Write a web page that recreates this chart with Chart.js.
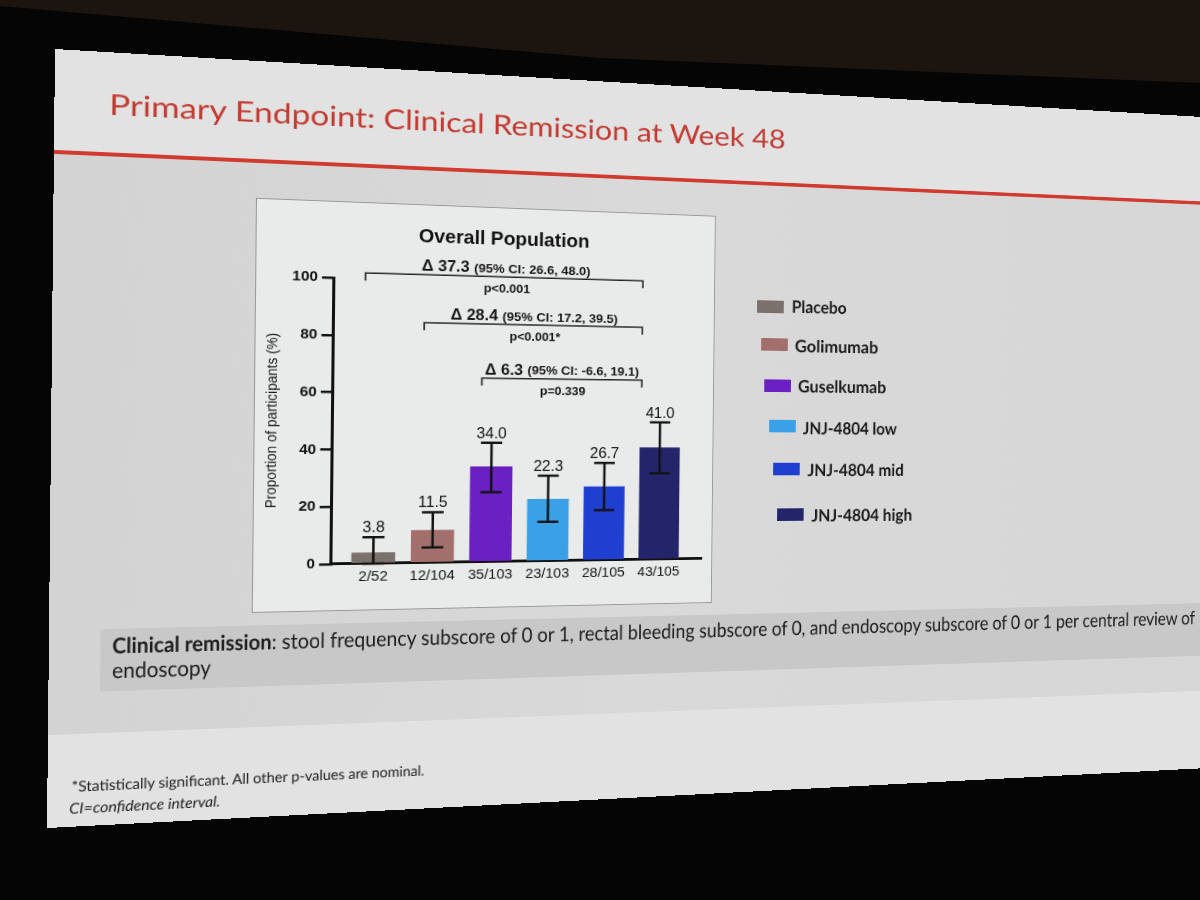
<!DOCTYPE html>
<html>
<head>
<meta charset="utf-8">
<title>Primary Endpoint: Clinical Remission at Week 48</title>
<script src="https://cdn.jsdelivr.net/npm/chart.js@4.4.1/dist/chart.umd.min.js"></script>
<style>
  html, body { margin: 0; padding: 0; }
  body { width: 1200px; height: 900px; overflow: hidden; background: #050505; position: relative; font-family: Lato, "Open Sans", sans-serif; }
  #room { position: absolute; left: 0; top: 0; width: 1200px; height: 900px; background: #1c150f;
          clip-path: polygon(0 0, 1200px 0, 1200px 83px, 600px 58px, 0 6px); }
  #slide { position: absolute; left: 0; top: 0; width: 1310px; height: 780px; transform-origin: 0 0;
           background: #e1e2e1; overflow: hidden; }
  #slide > * { position: absolute; }
  #panel { left: 0; width: 100%; background: linear-gradient(90deg, #d2d3d2, #d8d9d8 45%, #d5d6d5); }
  #redline { left: 0; width: 100%; height: 4px; background: #d13a2e; }
  #band { background: #c7c8c7; }
  #chartbox { background: #e9eaea; border: 1px solid #999; box-sizing: border-box; }
  .txt { white-space: nowrap; line-height: 1; transform-origin: 0 0; }
  #title { color: #c23a31; font-size: 29px; }
  .bandline { color: #1c1c1c; font-size: 22px; }
  .foot { color: #1e1e1e; font-size: 15px; }
  .sw { width: 30px; height: 14px; }
  .leg { color: #1b1b1b; font-size: 19px; font-weight: 700; }
</style>
</head>
<body>
<div id="room"></div>
<div id="slide">
  <div id="panel"></div>
  <div id="redline"></div>
  <div id="title" class="txt">Primary Endpoint: Clinical Remission at Week 48</div>
  <div id="chartbox"></div>
  <canvas id="chart"></canvas>
  <div id="band"></div>
  <div id="band1" class="txt bandline"><b>Clinical remission</b>: stool frequency subscore of 0 or 1, rectal bleeding subscore of 0, and endoscopy subscore of 0 or 1 per central review of</div>
  <div id="band2" class="txt bandline">endoscopy</div>
  <div id="foot1" class="txt foot">*Statistically significant. All other p-values are nominal.</div>
  <div id="foot2" class="txt foot"><i>CI=confidence interval.</i></div>
</div>
<script>
// =================== DATA ===================
const GROUPS = ['Placebo', 'Golimumab', 'Guselkumab', 'JNJ-4804 low', 'JNJ-4804 mid', 'JNJ-4804 high'];
const COUNTS = ['2/52', '12/104', '35/103', '23/103', '28/105', '43/105'];
const VALUES = [3.8, 11.5, 34.0, 22.3, 26.7, 41.0];
const CI_LOW = [0, 5.4, 24.9, 14.1, 18.2, 31.6];
const CI_HIGH = [9.3, 17.9, 42.6, 30.8, 35.4, 50.3];
const Y_TICKS = [0, 20, 40, 60, 80, 100];

const BRACKET_FROM = [0, 1, 2];
const BRACKET_TO = [5, 5, 5];
const BRACKET_LEVEL = [102, 85, 65.7];
const BRACKET_DELTA = ['Δ 37.3', 'Δ 28.4', 'Δ 6.3'];
const BRACKET_CI = ['(95% CI: 26.6, 48.0)', '(95% CI: 17.2, 39.5)', '(95% CI: -6.6, 19.1)'];
const BRACKET_P = ['p<0.001', 'p<0.001*', 'p=0.339'];

const COLORS = ['#7b716c', '#a36f6c', '#6a20c2', '#3ba1e6', '#1f3fd1', '#24246a'];

// =================== SLIDE PERSPECTIVE ===================
// flat slide corners -> where the photo shows them
const FLAT_W = 1310, FLAT_H = 780;
const SRC = [[0, 0], [FLAT_W, 0], [0, FLAT_H], [FLAT_W, FLAT_H]];
const DST = [[55, 49], [1253, 120], [47, 828], [1246, 766]];

function solveHomography(src, dst) {
  const A = [];
  for (let i = 0; i < 4; i++) {
    const [x, y] = src[i], [X, Y] = dst[i];
    A.push([x, y, 1, 0, 0, 0, -x * X, -y * X, X]);
    A.push([0, 0, 0, x, y, 1, -x * Y, -y * Y, Y]);
  }
  for (let c = 0; c < 8; c++) {
    let p = c;
    for (let r = c + 1; r < 8; r++) if (Math.abs(A[r][c]) > Math.abs(A[p][c])) p = r;
    [A[c], A[p]] = [A[p], A[c]];
    for (let r = 0; r < 8; r++) {
      if (r === c) continue;
      const f = A[r][c] / A[c][c];
      for (let k = c; k < 9; k++) A[r][k] -= f * A[c][k];
    }
  }
  const h = A.map((row, i) => row[8] / row[i]);
  h.push(1);
  return h;
}

function invert3(m) {
  const [a, b, c, d, e, f, g, h, i] = m;
  const A = e * i - f * h, B = -(d * i - f * g), C = d * h - e * g;
  const D = -(b * i - c * h), E = a * i - c * g, F = -(a * h - b * g);
  const G = b * f - c * e, Hh = -(a * f - c * d), I = a * e - b * d;
  const det = a * A + b * B + c * C;
  return [A, D, G, B, E, Hh, C, F, I].map(v => v / det);
}

const H = solveHomography(SRC, DST);
const HI = invert3(H);

function toFlat(x, y) {
  const w = HI[6] * x + HI[7] * y + HI[8];
  return [(HI[0] * x + HI[1] * y + HI[2]) / w, (HI[3] * x + HI[4] * y + HI[5]) / w];
}

const slide = document.getElementById('slide');
slide.style.transform = `matrix3d(${H[0]},${H[3]},0,${H[6]},${H[1]},${H[4]},0,${H[7]},0,0,1,0,${H[2]},${H[5]},0,1)`;

function box(el, l, t, w, h) {
  el.style.left = l + 'px'; el.style.top = t + 'px';
  if (w != null) el.style.width = w + 'px';
  if (h != null) el.style.height = h + 'px';
}

// text: baseline start point and (optional) end point, both in photo coords
function placeText(el, start, end, forceScale) {
  const a = toFlat(start[0], start[1]);
  const probe = document.createElement('span');
  probe.style.cssText = 'display:inline-block;width:0;height:0;vertical-align:baseline';
  el.appendChild(probe);
  let v = a[1], s = forceScale || 1;
  if (end) {
    const b = toFlat(end[0], end[1]);
    v = (a[1] + b[1]) / 2;
    s = (b[0] - a[0]) / el.offsetWidth;
  }
  el.style.transform = 'scaleX(' + s + ')';
  el.style.left = a[0] + 'px';
  el.style.top = (v - probe.offsetTop) + 'px';
  return s;
}

// =================== SLIDE LAYOUT ===================
const redV = toFlat(60, 150)[1];
box(document.getElementById('redline'), 0, redV);
const footV = toFlat(45, 735)[1];
box(document.getElementById('panel'), 0, redV + 4, null, footV - redV - 4);

placeText(document.getElementById('title'), [109, 111], [785, 152]);

const bandTL = toFlat(100, 629), bandBL = toFlat(100, 692);
const bandL = (bandTL[0] + bandBL[0]) / 2;
box(document.getElementById('band'), bandL, bandTL[1], FLAT_W - bandL - 10, bandBL[1] - bandTL[1]);
const bandScale = placeText(document.getElementById('band1'), [112, 652.5], [1195, 625]);
placeText(document.getElementById('band2'), [112, 678.3], null, bandScale);

placeText(document.getElementById('foot1'), [71, 793], [424, 775]);
placeText(document.getElementById('foot2'), [69, 814], [220, 806.7]);

// legend, built from the same arrays as the bars
const LEGEND_SWATCH = [[757, 300], [761, 338], [764, 379], [769, 420], [773, 463], [777, 508]];
const LEGEND_TEXT = [[791.7, 314.3, 846.7], [795, 354, 878.3], [798.3, 393.3, 886.7],
                     [802.3, 435, 896], [807.3, 477.3, 903.3], [811.7, 522.3, 912.3]];
GROUPS.forEach((name, i) => {
  const sw = document.createElement('div');
  sw.className = 'sw';
  sw.style.background = COLORS[i];
  slide.appendChild(sw);
  const p = toFlat(LEGEND_SWATCH[i][0], LEGEND_SWATCH[i][1]);
  box(sw, p[0], p[1]);
  const t = document.createElement('div');
  t.className = 'txt leg';
  t.textContent = name;
  slide.appendChild(t);
  const [tx, ty, tx2] = LEGEND_TEXT[i];
  placeText(t, [tx, ty], [tx2, ty - 0.02 * (tx2 - tx)]);
});

// =================== CHART ===================
const CHART_FONT = "'Liberation Sans', Arial, sans-serif";
Chart.defaults.font.family = CHART_FONT;

const bl = toFlat(252.6, 198), bb = toFlat(255.6, 613);
const boxL = (bl[0] + bb[0]) / 2, boxT = bl[1];
const boxR = toFlat(714, 410)[0], boxB = bb[1];
const boxW = boxR - boxL, boxH = boxB - boxT;
box(document.getElementById('chartbox'), boxL, boxT, boxW, boxH);

const canvas = document.getElementById('chart');
canvas.width = Math.round(boxW);
canvas.height = Math.round(boxH);
box(canvas, boxL, boxT, Math.round(boxW), Math.round(boxH));

const errorBars = {
  id: 'errorBars',
  afterDatasetsDraw(chart) {
    const { ctx, scales: { x, y } } = chart;
    ctx.save();
    ctx.strokeStyle = '#121212';
    ctx.fillStyle = '#121212';
    ctx.lineWidth = 2.5;
    ctx.font = '16px ' + CHART_FONT;
    ctx.textAlign = 'center';
    ctx.textBaseline = 'alphabetic';
    VALUES.forEach((val, i) => {
      const px = x.getPixelForValue(i);
      const top = y.getPixelForValue(CI_HIGH[i]);
      const bot = y.getPixelForValue(CI_LOW[i]);
      ctx.beginPath();
      ctx.moveTo(px, bot); ctx.lineTo(px, top);
      ctx.moveTo(px - 11, top); ctx.lineTo(px + 11, top);
      ctx.moveTo(px - 11, bot); ctx.lineTo(px + 11, bot);
      ctx.stroke();
      ctx.fillText(val.toFixed(1), px, top - 5);
    });
    ctx.restore();
  }
};

// title and comparison brackets above the bars
const brackets = {
  id: 'brackets',
  afterDraw(chart) {
    const { ctx, scales: { x, y } } = chart;
    ctx.save();
    ctx.fillStyle = '#111';
    ctx.textAlign = 'center';
    ctx.textBaseline = 'middle';
    ctx.font = 'bold 20px ' + CHART_FONT;
    ctx.fillText('Overall Population', x.getPixelForValue(2.2), y.getPixelForValue(115.3));

    ctx.strokeStyle = '#222';
    ctx.fillStyle = '#161616';
    ctx.lineWidth = 1.6;
    BRACKET_LEVEL.forEach((lvl, i) => {
      const x1 = x.getPixelForValue(BRACKET_FROM[i] - 0.18);
      const x2 = x.getPixelForValue(BRACKET_TO[i] - 0.34);
      const py = y.getPixelForValue(lvl);
      ctx.beginPath();
      ctx.moveTo(x1, py + 8); ctx.lineTo(x1, py); ctx.lineTo(x2, py); ctx.lineTo(x2, py + 8);
      ctx.stroke();
      const mid = (x1 + x2) / 2;
      const fBig = 'bold 16.5px ' + CHART_FONT, fSmall = 'bold 13.5px ' + CHART_FONT;
      ctx.font = fBig;
      const w1 = ctx.measureText(BRACKET_DELTA[i] + ' ').width;
      ctx.font = fSmall;
      const w2 = ctx.measureText(BRACKET_CI[i]).width;
      const sx = mid - (w1 + w2) / 2;
      ctx.textAlign = 'left';
      ctx.font = fBig;
      ctx.fillText(BRACKET_DELTA[i] + ' ', sx, py - 8.5);
      ctx.font = fSmall;
      ctx.fillText(BRACKET_CI[i], sx + w1, py - 8);
      ctx.textAlign = 'center';
      ctx.font = 'bold 13px ' + CHART_FONT;
      ctx.fillText(BRACKET_P[i], mid, py + 13.5);
    });
    ctx.restore();
  }
};

const chart = new Chart(canvas, {
  type: 'bar',
  data: {
    datasets: [{
      label: 'Clinical remission (%)',
      data: VALUES.map((v, i) => ({ x: i, y: v })),
      backgroundColor: COLORS,
      borderWidth: 0,
      barThickness: 43
    }]
  },
  options: {
    responsive: false,
    animation: false,
    layout: { padding: { left: 0, top: 0, right: 0, bottom: 0 } },
    plugins: {
      legend: { display: false },
      tooltip: { enabled: false },
      title: { display: false }
    },
    scales: {
      x: {
        type: 'linear',
        min: -0.7,
        max: 5.79,
        offset: false,
        afterBuildTicks: s => { s.ticks = COUNTS.map((_, i) => ({ value: i })); },
        ticks: { callback: v => COUNTS[v], color: '#151515', font: { size: 15 }, padding: 5, maxRotation: 0, autoSkip: false },
        grid: { display: false, drawTicks: false, offset: false },
        border: { display: true, color: '#111', width: 3 }
      },
      y: {
        min: 0,
        max: 100,
        afterBuildTicks: s => { s.ticks = Y_TICKS.map(v => ({ value: v })); },
        ticks: { color: '#111', font: { size: 15, weight: 'bold' }, padding: 4 },
        grid: { drawOnChartArea: false, drawTicks: true, tickLength: 12, color: '#111', lineWidth: 2.5 },
        border: { display: true, color: '#111', width: 3 },
        title: {
          display: true,
          text: 'Proportion of participants (%)',
          color: '#151515',
          font: { size: 14 },
          padding: { top: 0, bottom: 5 }
        }
      }
    }
  },
  plugins: [errorBars, brackets]
});

// line the plot area up with the photo: y=0 / y=100 / axis ends
const p0 = toFlat(331.5, 564.5), p100 = toFlat(329, 278), pEnd = toFlat(701.7, 557);
const want = { left: p0[0] - boxL, top: p100[1] - boxT, right: pEnd[0] - boxL, bottom: p0[1] - boxT };
for (let k = 0; k < 4; k++) {
  const ca = chart.chartArea, pad = chart.options.layout.padding;
  chart.options.layout.padding = {
    left: pad.left + (want.left - ca.left),
    top: pad.top + (want.top - ca.top),
    right: pad.right + (ca.right - want.right),
    bottom: pad.bottom + (ca.bottom - want.bottom)
  };
  chart.update('none');
}
</script>
</body>
</html>
